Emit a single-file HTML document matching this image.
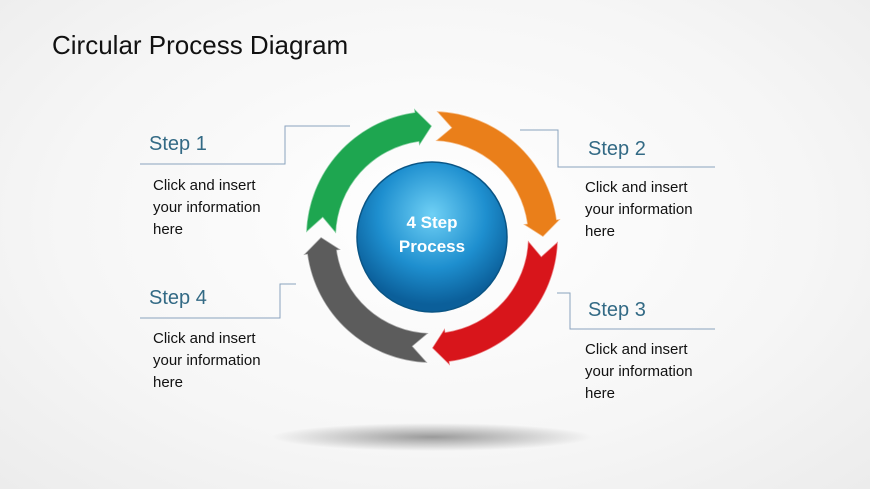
<!DOCTYPE html>
<html><head><meta charset="utf-8"><style>
html,body{margin:0;padding:0}
body{width:870px;height:489px;overflow:hidden;position:relative;font-family:"Liberation Sans",sans-serif;background:radial-gradient(ellipse at 50% 45%,#ffffff 0%,#f6f6f6 60%,#ececec 100%)}
.t{position:absolute;white-space:nowrap}
.title{left:52px;top:30px;font-size:26px;color:#111}
.step{font-size:20px;color:#336a85}
.body{font-size:15px;color:#111;line-height:22px}
</style></head><body>
<svg width="870" height="489" style="position:absolute;left:0;top:0">
<defs>
<radialGradient id="b" cx="50%" cy="35%" r="60%"><stop offset="0" stop-color="#6fd0f5"/><stop offset="0.6" stop-color="#1e8fcf"/><stop offset="1" stop-color="#0b5f9a"/></radialGradient>
<radialGradient id="sh" cx="50%" cy="50%" r="50%"><stop offset="0" stop-color="#9a9a9a"/><stop offset="1" stop-color="#9a9a9a" stop-opacity="0"/></radialGradient>
</defs>
<ellipse cx="432" cy="437" rx="160" ry="14" fill="url(#sh)"/>
<g fill="none" stroke="#8aa3be" stroke-width="1">
<polyline points="140,164 285,164 285,126 350,126"/>
<polyline points="715,167 558,167 558,130 520,130"/>
<polyline points="140,318 280,318 280,284 296,284"/>
<polyline points="715,329 570,329 570,293 557,293"/>
</g>
<g stroke="#ffffff" stroke-opacity="0.5" stroke-width="1.5">
<path fill="#1ea650" d="M306.08,232.60 A126,126 0 0 1 414.46,112.23 L413.91,108.26 L432,126 L419.20,145.90 L418.64,141.93 A96,96 0 0 0 336.06,233.65 L322.69,217.73 Z"/>
<path fill="#ea7f1a" transform="rotate(90 432 237)" d="M306.08,232.60 A126,126 0 0 1 414.46,112.23 L413.91,108.26 L432,126 L419.20,145.90 L418.64,141.93 A96,96 0 0 0 336.06,233.65 L322.69,217.73 Z"/>
<path fill="#d8151b" transform="rotate(180 432 237)" d="M306.08,232.60 A126,126 0 0 1 414.46,112.23 L413.91,108.26 L432,126 L419.20,145.90 L418.64,141.93 A96,96 0 0 0 336.06,233.65 L322.69,217.73 Z"/>
<path fill="#5c5c5c" transform="rotate(270 432 237)" d="M306.08,232.60 A126,126 0 0 1 414.46,112.23 L413.91,108.26 L432,126 L419.20,145.90 L418.64,141.93 A96,96 0 0 0 336.06,233.65 L322.69,217.73 Z"/>
</g>
<circle cx="432" cy="237" r="75" fill="url(#b)" stroke="#0a5585" stroke-width="1.5"/>
<text x="432" y="228" text-anchor="middle" font-family="Liberation Sans" font-weight="bold" font-size="17" fill="#fff">4 Step</text>
<text x="432" y="252" text-anchor="middle" font-family="Liberation Sans" font-weight="bold" font-size="17" fill="#fff">Process</text>
</svg>
<div class="t title">Circular Process Diagram</div>
<div class="t step" style="left:149px;top:133px">Step 1</div>
<div class="t step" style="left:588px;top:138px">Step 2</div>
<div class="t step" style="left:149px;top:287px">Step 4</div>
<div class="t step" style="left:588px;top:299px">Step 3</div>
<div class="t body" style="left:153px;top:175px">Click and insert<br>your information<br>here</div>
<div class="t body" style="left:585px;top:177px">Click and insert<br>your information<br>here</div>
<div class="t body" style="left:153px;top:328px">Click and insert<br>your information<br>here</div>
<div class="t body" style="left:585px;top:339px">Click and insert<br>your information<br>here</div>
</body></html>
